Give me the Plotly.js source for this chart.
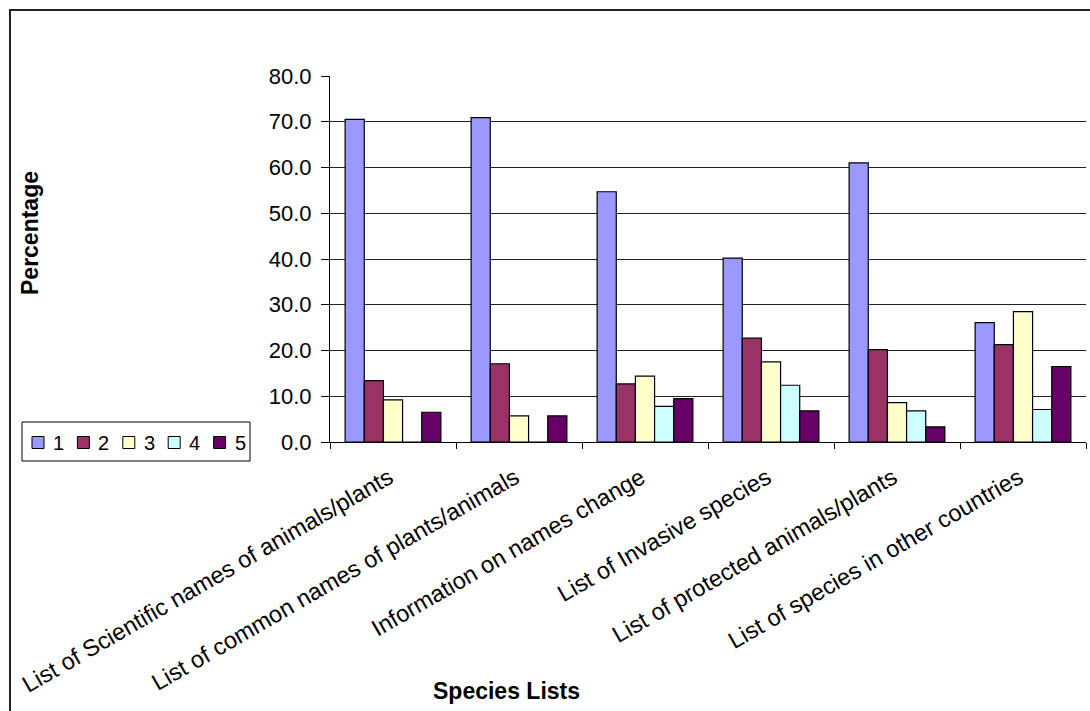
<!DOCTYPE html>
<html>
<head>
<meta charset="utf-8">
<script src="https://cdn.plot.ly/plotly-3.0.1.min.js"></script>
<style>
  html, body { margin: 0; padding: 0; background: #fff; overflow: hidden; }
  #wrap { position: relative; width: 1090px; height: 711px; }
  #chart { position: absolute; left: 0; top: 0; width: 1090px; height: 711px; }
  #frame { position: absolute; left: 9px; top: 9px; width: 1200px; height: 900px;
           border-left: 2px solid #222; border-top: 2px solid #222; pointer-events: none; }
</style>
</head>
<body>
<div id="wrap">
  <div id="chart"></div>
  <div id="frame"></div>
</div>
<script>
// Species list categories (x axis)
const categories = [
  "List of Scientific names of animals/plants",
  "List of common names of plants/animals",
  "Information on names change",
  "List of Invasive species",
  "List of protected animals/plants",
  "List of species in other countries"
];

// Percentage of answers for each rating 1..5
const rating1 = [70.5, 70.9, 54.7, 40.2, 61.0, 26.1];
const rating2 = [13.4, 17.1, 12.7, 22.7, 20.2, 21.3];
const rating3 = [9.2, 5.7, 14.4, 17.5, 8.6, 28.5];
const rating4 = [0.0, 0.0, 7.8, 12.4, 6.8, 7.1];
const rating5 = [6.5, 5.7, 9.5, 6.8, 3.3, 16.5];

const seriesNames = ["1", "2", "3", "4", "5"];
const seriesValues = [rating1, rating2, rating3, rating4, rating5];
const seriesColors = ["#9999FF", "#993366", "#FFFFCC", "#CCFFFF", "#660066"];

const yTickValues = [0, 10, 20, 30, 40, 50, 60, 70, 80];

const FONT = "Liberation Sans, Arial, Helvetica, sans-serif";

// Plot area in pixels (used to place the key box and titles outside the axes)
const W = 1090, H = 711;
const M = { l: 330, r: 4, t: 76, b: 269 };
const plotW = W - M.l - M.r, plotH = H - M.t - M.b;
const px = x => (x - M.l) / plotW;          // page x -> paper x
const py = y => (H - M.b - y) / plotH;      // page y -> paper y

const traces = seriesValues.map((vals, i) => ({
  type: "bar",
  name: seriesNames[i],
  x: categories,
  y: vals,
  showlegend: false,
  marker: { color: seriesColors[i], line: { color: "#000", width: 1.2 } },
  hoverinfo: "x+y+name"
}));

// Key: framed box with a swatch and label per series
const key = { left: 22, top: 422, right: 250, bottom: 461, x0: 32, step: 45.4, sw: 12 };
const keyShapes = [{
  type: "rect", xref: "paper", yref: "paper", layer: "above",
  x0: px(key.left), x1: px(key.right), y0: py(key.bottom), y1: py(key.top),
  line: { color: "#000", width: 1 }, fillcolor: "#fff"
}];
const keyLabels = [];
const keyMid = (key.top + key.bottom) / 2 + 1;
seriesNames.forEach((name, i) => {
  const sx = key.x0 + key.step * i;
  keyShapes.push({
    type: "rect", xref: "paper", yref: "paper", layer: "above",
    x0: px(sx), x1: px(sx + key.sw), y0: py(keyMid + key.sw / 2), y1: py(keyMid - key.sw / 2),
    line: { color: "#000", width: 1 }, fillcolor: seriesColors[i]
  });
  keyLabels.push({
    text: name, xref: "paper", yref: "paper",
    x: px(sx + key.sw + 7), y: py(keyMid),
    xanchor: "left", yanchor: "middle", showarrow: false,
    font: { family: FONT, size: 20, color: "#000" }
  });
});

const layout = {
  width: W,
  height: H,
  paper_bgcolor: "#fff",
  plot_bgcolor: "#fff",
  font: { family: FONT, color: "#000", size: 22 },
  margin: Object.assign({ autoexpand: false }, M),
  barmode: "group",
  bargap: 0.24,
  bargroupgap: 0,
  showlegend: false,
  xaxis: {
    type: "category",
    showline: true, linecolor: "#000", linewidth: 1,
    ticks: "outside", tickson: "boundaries", ticklen: 6, tickcolor: "#000",
    tickangle: -30,
    ticklabelstandoff: 12,
    ticklabelshift: -4,
    tickfont: { family: FONT, size: 23.5, color: "#000" },
    showgrid: false,
    automargin: false
  },
  yaxis: {
    range: [0, 80],
    tickvals: yTickValues,
    tickformat: ".1f",
    showline: true, linecolor: "#000", linewidth: 1,
    ticks: "outside", ticklen: 8, tickcolor: "#000",
    ticklabelstandoff: 5,
    tickfont: { family: FONT, size: 22, color: "#000" },
    showgrid: true, gridcolor: "#222", gridwidth: 1,
    zeroline: false,
    automargin: false
  },
  shapes: keyShapes,
  annotations: [
    {
      text: "<b>Percentage</b>",
      xref: "paper", yref: "paper",
      x: px(30), y: py(233),
      xanchor: "center", yanchor: "middle",
      textangle: -90, showarrow: false,
      font: { family: FONT, size: 23, color: "#000" }
    },
    {
      text: "<b>Species Lists</b>",
      xref: "paper", yref: "paper",
      x: px(506.5), y: py(691),
      xanchor: "center", yanchor: "middle",
      showarrow: false,
      font: { family: FONT, size: 23, color: "#000" }
    }
  ].concat(keyLabels)
};

Plotly.newPlot("chart", traces, layout, { displayModeBar: false, staticPlot: true });
</script>
</body>
</html>
